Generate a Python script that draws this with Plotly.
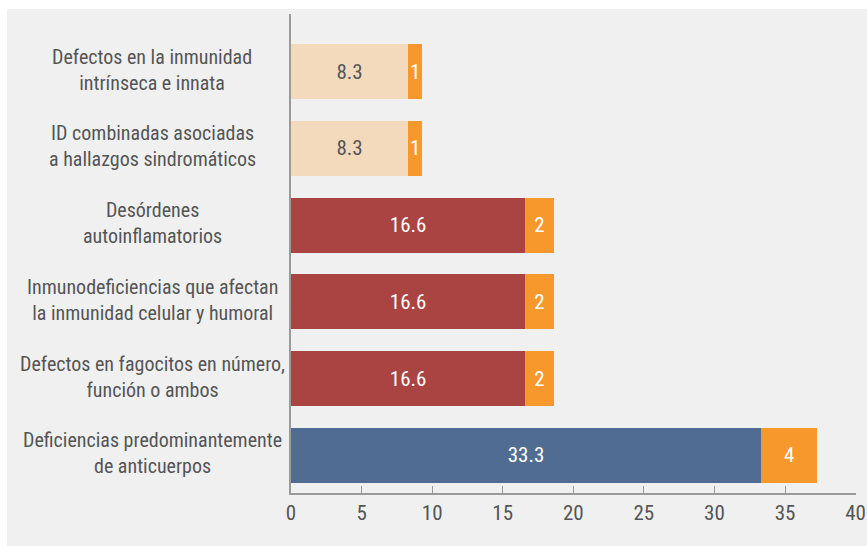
import plotly.graph_objects as go

categories = [
    "Defectos en la inmunidad<br>intrínseca e innata",
    "ID combinadas asociadas<br>a hallazgos sindromáticos",
    "Desórdenes<br>autoinflamatorios",
    "Inmunodeficiencias que afectan<br>la inmunidad celular y humoral",
    "Defectos en fagocitos en número,<br>función o ambos",
    "Deficiencias predominantemente<br>de anticuerpos",
]
percent_values = [8.3, 8.3, 16.6, 16.6, 16.6, 33.3]
count_values = [1, 1, 2, 2, 2, 4]
percent_colors = ["#F4DABD", "#F4DABD", "#A94443", "#A94443", "#A94443", "#506C93"]
percent_text_colors = ["#555555", "#555555", "white", "white", "white", "white"]
count_color = "#F7982D"
x_ticks = [0, 5, 10, 15, 20, 25, 30, 35, 40]

FONT = "Roboto Condensed, Liberation Sans Narrow, Arial Narrow, sans-serif"
TXT = "#555555"
AX = "#9a9a9a"
W, H = 867, 546
ML, MR, MT, MB = 291, 11, 14, 53
pw, ph = W - ML - MR, H - MT - MB

fig = go.Figure()
fig.add_trace(go.Bar(
    y=categories, x=percent_values, orientation="h",
    marker=dict(color=percent_colors, line=dict(width=0)),
    text=[str(v) for v in percent_values], textposition="inside",
    insidetextanchor="middle", textangle=0,
    textfont=dict(family=FONT, size=21, color=percent_text_colors),
    hoverinfo="skip",
))
fig.add_trace(go.Bar(
    y=categories, x=count_values, orientation="h",
    marker=dict(color=count_color, line=dict(width=0)),
    text=[str(v) for v in count_values], textposition="inside",
    insidetextanchor="middle", textangle=0,
    textfont=dict(family=FONT, size=21, color="white"),
    hoverinfo="skip",
))

for c in categories:
    fig.add_annotation(
        x=(152 - ML) / pw, xref="paper", y=c, yref="y",
        text=c, showarrow=False, xanchor="center", yanchor="middle",
        align="center", yshift=2,
        font=dict(family=FONT, size=20, color=TXT),
    )

# grey panel behind the chart
fig.add_shape(
    type="rect", xref="paper", yref="paper", layer="below",
    x0=(7 - ML) / pw, x1=(W - ML) / pw + 0.05,
    y0=-(MB + 5) / ph, y1=(ph + MT - 9) / ph,
    fillcolor="#F0F0F0", line=dict(width=0),
)

fig.update_layout(
    width=W, height=H, barmode="stack", bargap=0.284,
    margin=dict(l=ML, r=MR, t=MT, b=MB, autoexpand=False),
    paper_bgcolor="white", plot_bgcolor="rgba(0,0,0,0)",
    showlegend=False,
    uniformtext=dict(minsize=21, mode="show"),
    xaxis=dict(
        range=[0, 40.03], tickvals=x_ticks, ticktext=[str(t) for t in x_ticks],
        ticks="inside", ticklen=7, automargin=False,
        tickcolor=AX, tickwidth=1.3, showline=True, linecolor=AX,
        linewidth=1.5, showgrid=False, zeroline=False,
        tickfont=dict(family=FONT, size=21, color=TXT),
    ),
    yaxis=dict(
        range=[5.49, -0.75], showticklabels=False, ticks="", automargin=False,
        showline=True, linecolor=AX, linewidth=1.5, showgrid=False,
        zeroline=False,
    ),
)

fig.write_html("out.html")
